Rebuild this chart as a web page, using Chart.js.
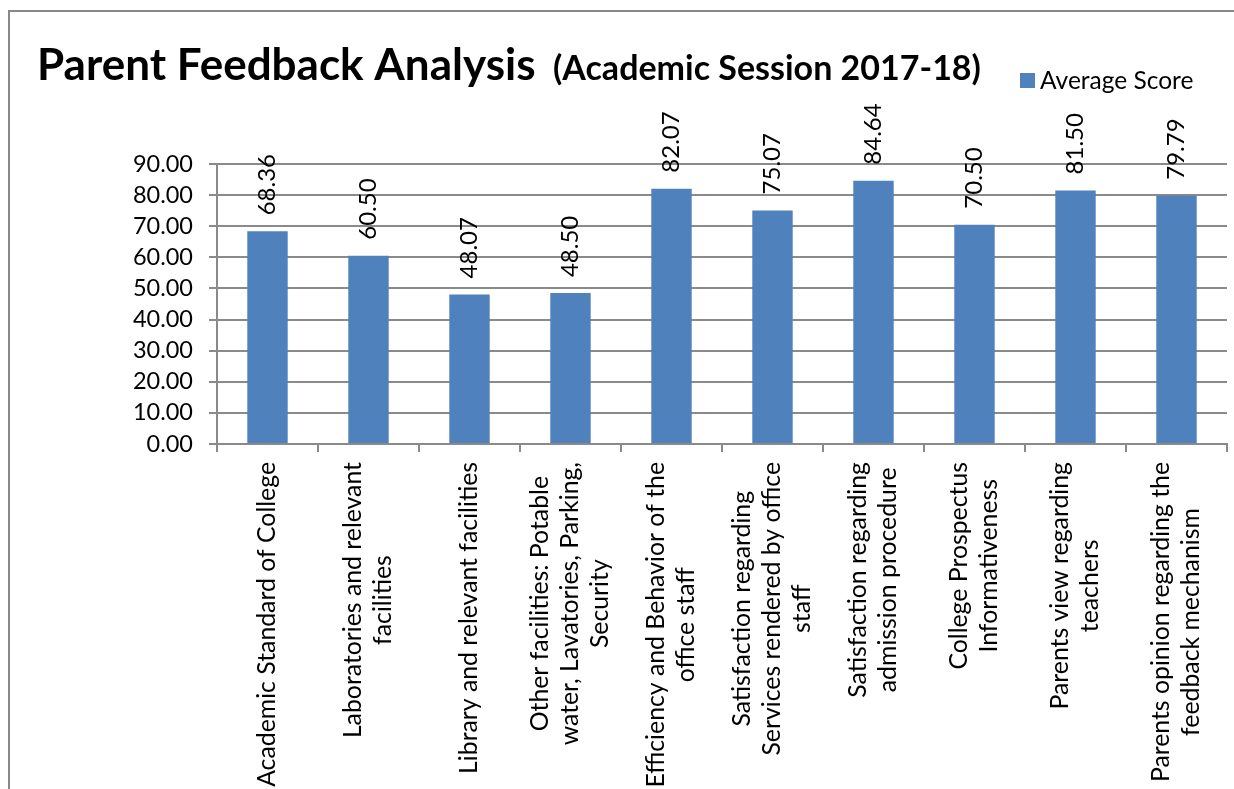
<!DOCTYPE html>
<html>
<head>
<meta charset="utf-8">
<title>Parent Feedback Analysis</title>
<script src="https://cdn.jsdelivr.net/npm/chart.js@4/dist/chart.umd.min.js"></script>
<style>
    html, body { margin: 0; padding: 0; background: #fff; }
    #wrap { position: relative; width: 1234px; height: 789px; }
</style>
</head>
<body>
<div id="wrap"><canvas id="feedbackChart" width="1234" height="789"></canvas></div>
<script>
// chart data
const categories = [
    ['Academic Standard of College'],
    ['Laboratories and relevant', 'facilities'],
    ['Library and relevant facilities'],
    ['Other facilities: Potable', 'water, Lavatories, Parking,', 'Security'],
    ['Efficiency and Behavior of the', 'office staff'],
    ['Satisfaction regarding', 'Services rendered by office', 'staff'],
    ['Satisfaction regarding', 'admission procedure'],
    ['College Prospectus', 'Informativeness'],
    ['Parents view regarding', 'teachers'],
    ['Parents opinion regarding the', 'feedback mechanism']
];
const averageScore = [68.36, 60.50, 48.07, 48.50, 82.07, 75.07, 84.64, 70.50, 81.50, 79.79];
const yTicks = { min: 0, max: 90, step: 10 };

const FONT = 'Lato, "Open Sans", sans-serif';
const BAR_COLOR = '#4F81BD';
const GRID_COLOR = '#8a8a8a';

// title, legend and frame drawn by hand (mixed font sizes on one line)
const headerPlugin = {
    id: 'header',
    beforeDraw(chart) {
        const ctx = chart.ctx;
        ctx.save();
        ctx.strokeStyle = '#888';
        ctx.lineWidth = 2;
        ctx.strokeRect(9, 11, 1400, 1000);
        ctx.restore();
    },
    afterDraw(chart) {
        const ctx = chart.ctx;
        ctx.save();
        ctx.fillStyle = '#000';
        ctx.textBaseline = 'alphabetic';
        ctx.textAlign = 'left';
        ctx.font = 'bold 44px ' + FONT;
        ctx.fillText('Parent Feedback Analysis', 37, 80);
        ctx.font = 'bold 34px ' + FONT;
        ctx.fillText('(Academic Session 2017-18)', 553, 80);

        // legend
        ctx.fillStyle = BAR_COLOR;
        ctx.fillRect(1020, 73, 15, 15);
        ctx.fillStyle = '#000';
        ctx.font = '24.5px ' + FONT;
        ctx.textBaseline = 'middle';
        ctx.fillText('Average Score', 1040, 81);
        ctx.restore();
    }
};

// vertical category labels, lines centred on each other
const categoryLabels = {
    id: 'categoryLabels',
    afterDraw(chart) {
        const ctx = chart.ctx;
        const xScale = chart.scales.x;
        const top = chart.chartArea.bottom + 18;
        const lineH = 30;
        ctx.save();
        ctx.font = '24.8px ' + FONT;
        ctx.fillStyle = '#000';
        ctx.textAlign = 'center';
        ctx.textBaseline = 'middle';
        categories.forEach((lines, i) => {
            const cx = xScale.getPixelForValue(i);
            const w = Math.max(...lines.map(l => ctx.measureText(l).width));
            ctx.save();
            ctx.translate(cx, top + w / 2);
            ctx.rotate(-Math.PI / 2);
            lines.forEach((l, j) => {
                ctx.fillText(l, 0, (j - (lines.length - 1) / 2) * lineH);
            });
            ctx.restore();
        });
        ctx.restore();
    }
};

// value labels above each bar, rotated
const valueLabels = {
    id: 'valueLabels',
    afterDatasetsDraw(chart) {
        const ctx = chart.ctx;
        const meta = chart.getDatasetMeta(0);
        ctx.save();
        ctx.font = '24px ' + FONT;
        ctx.fillStyle = '#000';
        ctx.textAlign = 'left';
        ctx.textBaseline = 'middle';
        meta.data.forEach((bar, i) => {
            ctx.save();
            ctx.translate(bar.x, bar.y - 16);
            ctx.rotate(-Math.PI / 2);
            ctx.fillText(averageScore[i].toFixed(2), 0, 0);
            ctx.restore();
        });
        ctx.restore();
    }
};

const ctxBar = document.getElementById('feedbackChart').getContext('2d');
const feedbackChart = new Chart(ctxBar, {
    type: 'bar',
    data: {
        labels: categories.map(c => c.join(' ')),
        datasets: [{
            label: 'Average Score',
            data: averageScore,
            backgroundColor: BAR_COLOR,
            borderWidth: 0,
            barPercentage: 0.4,
            categoryPercentage: 1.0
        }]
    },
    options: {
        responsive: false,
        animation: false,
        layout: {
            padding: { top: 164, right: 7, left: 0, bottom: 0 }
        },
        plugins: {
            legend: { display: false },
            title: { display: false },
            tooltip: { enabled: false }
        },
        scales: {
            y: {
                min: yTicks.min,
                max: yTicks.max,
                afterFit: (s) => { s.width = 217; },
                ticks: {
                    stepSize: yTicks.step,
                    autoSkip: false,
                    padding: 16,
                    color: '#000',
                    font: { family: FONT, size: 23.5 },
                    callback: (v) => Number(v).toFixed(2)
                },
                grid: {
                    color: GRID_COLOR,
                    lineWidth: 2,
                    tickLength: 8,
                    drawTicks: true
                },
                border: { display: true, color: GRID_COLOR, width: 2 }
            },
            x: {
                offset: true,
                afterFit: (s) => { s.height = 345; },
                ticks: { display: false },
                grid: {
                    offset: true,
                    drawOnChartArea: false,
                    drawTicks: true,
                    tickLength: 8,
                    color: GRID_COLOR,
                    lineWidth: 2
                },
                border: { display: true, color: GRID_COLOR, width: 2 }
            }
        }
    },
    plugins: [headerPlugin, valueLabels, categoryLabels]
});
</script>
</body>
</html>
